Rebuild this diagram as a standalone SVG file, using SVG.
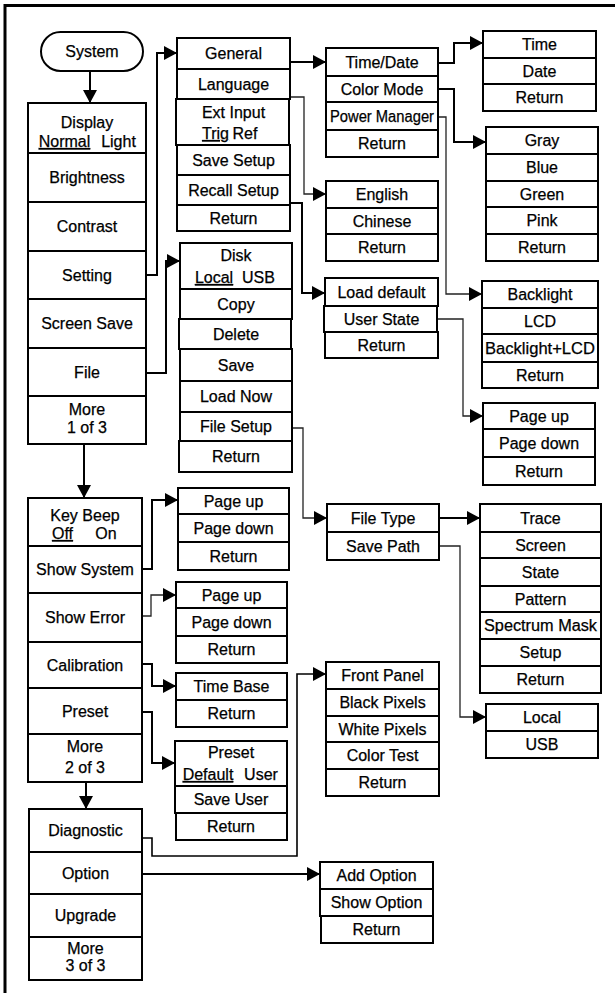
<svg xmlns="http://www.w3.org/2000/svg" width="615" height="993" viewBox="0 0 615 993">
<style>
rect{fill:#fff;stroke:#000;stroke-width:2}
text{font-family:"Liberation Sans",Arial,sans-serif;font-size:16px;text-anchor:middle;fill:#000;stroke:#000;stroke-width:0.25}
.u{text-decoration:underline}
.c{fill:none;stroke:#000;stroke-width:2}
.t{fill:none;stroke:#222;stroke-width:1.3}
.frame{fill:none;stroke:#000;stroke-width:3}
</style>
<defs>
<marker id="ah" markerUnits="userSpaceOnUse" markerWidth="14" markerHeight="14" refX="13" refY="7" orient="auto">
<path d="M0,0 L13,7 L0,14 z" fill="#000"/>
</marker>
</defs>
<rect width="615" height="993" style="fill:#fff;stroke:none"/>
<path class="frame" d="M5,993 V5.5 H615"/>

<g id="connectors">
<path class="c" d="M90,71 V103" marker-end="url(#ah)"/>
<path class="c" d="M84,444 V498" marker-end="url(#ah)"/>
<path class="c" d="M86,782 V809" marker-end="url(#ah)"/>
<path class="c" d="M146,275 H157 V53 H177" marker-end="url(#ah)"/>
<path class="c" d="M146,373 H166 V261 H180" marker-end="url(#ah)"/>
<path class="c" d="M290,62 H326" marker-end="url(#ah)"/>
<path class="t" d="M290,97 H304 V194 H326" marker-end="url(#ah)"/>
<path class="c" d="M290,203 H302 V293 H325" marker-end="url(#ah)"/>
<path class="c" d="M438,63 H454 V43 H483" marker-end="url(#ah)"/>
<path class="c" d="M438,89 H454 V142 H486" marker-end="url(#ah)"/>
<path class="t" d="M438,117 H446 V294 H482" marker-end="url(#ah)"/>
<path class="t" d="M437,319 H463 V416 H483" marker-end="url(#ah)"/>
<path class="t" d="M292,428 H303 V518 H327" marker-end="url(#ah)"/>
<path class="c" d="M439,518 H480" marker-end="url(#ah)"/>
<path class="t" d="M439,546 H460 V717 H486" marker-end="url(#ah)"/>
<path class="c" d="M142,569 H152 V500 H178" marker-end="url(#ah)"/>
<path class="t" d="M142,616 H151 V595 H176" marker-end="url(#ah)"/>
<path class="c" d="M142,664 H152 V686 H176" marker-end="url(#ah)"/>
<path class="c" d="M142,712 H152 V763 H175" marker-end="url(#ah)"/>
<path class="c" style="stroke-width:1.6" d="M142,838 H152 V856 H297 V674 H326" marker-end="url(#ah)"/>
<path class="c" d="M142,874 H320" marker-end="url(#ah)"/>
</g>

<g id="system">
<rect x="41" y="32" width="102" height="39" rx="19.5"/>
<text x="92" y="57">System</text>
</g>

<g id="menu1">
<rect x="28" y="103" width="118" height="50"/>
<text x="87" y="128">Display</text>
<text class="u" x="64.5" y="147">Normal</text>
<text x="118.5" y="147">Light</text>
<rect x="28" y="153" width="118" height="49"/><text x="87" y="183">Brightness</text>
<rect x="28" y="202" width="118" height="49"/><text x="87" y="232">Contrast</text>
<rect x="28" y="251" width="118" height="48"/><text x="87" y="280.5">Setting</text>
<rect x="28" y="299" width="118" height="49"/><text x="87" y="329">Screen Save</text>
<rect x="28" y="348" width="118" height="48"/><text x="87" y="377.5">File</text>
<rect x="28" y="396" width="118" height="48"/>
<text x="87" y="415">More</text><text x="87" y="433">1 of 3</text>
</g>

<g id="setting-menu">
<rect x="177" y="38" width="113" height="31"/><text x="233.5" y="59">General</text>
<rect x="177" y="69" width="113" height="30"/><text x="233.5" y="89.5">Language</text>
<rect x="176" y="99" width="113" height="46"/>
<text x="233.5" y="118">Ext Input</text>
<text class="u" x="215.5" y="139">Trig</text><text x="245" y="139">Ref</text>
<rect x="177" y="145" width="113" height="30"/><text x="233.5" y="165.5">Save Setup</text>
<rect x="177" y="175" width="113" height="30"/><text x="233.5" y="195.5">Recall Setup</text>
<rect x="177" y="205" width="113" height="26"/><text x="233.5" y="223.5">Return</text>
</g>

<g id="general-menu">
<rect x="326" y="48" width="112" height="28"/><text x="382" y="67.5">Time/Date</text>
<rect x="326" y="76" width="112" height="26"/><text x="382" y="94.5">Color Mode</text>
<rect x="326" y="102" width="112" height="28"/><text x="382" y="121.5" textLength="104" lengthAdjust="spacingAndGlyphs">Power Manager</text>
<rect x="326" y="130" width="112" height="27"/><text x="382" y="149">Return</text>
</g>

<g id="time-menu">
<rect x="483" y="31" width="113" height="27"/><text x="539.5" y="50">Time</text>
<rect x="483" y="58" width="113" height="26"/><text x="539.5" y="76.5">Date</text>
<rect x="483" y="84" width="113" height="27"/><text x="539.5" y="103">Return</text>
</g>

<g id="color-menu">
<rect x="486" y="127" width="112" height="27"/><text x="542" y="146">Gray</text>
<rect x="486" y="154" width="112" height="27"/><text x="542" y="173">Blue</text>
<rect x="486" y="181" width="112" height="26"/><text x="542" y="199.5">Green</text>
<rect x="486" y="207" width="112" height="27"/><text x="542" y="226">Pink</text>
<rect x="486" y="234" width="112" height="27"/><text x="542" y="253">Return</text>
</g>

<g id="language-menu">
<rect x="326" y="181" width="112" height="27"/><text x="382" y="200">English</text>
<rect x="326" y="208" width="112" height="26"/><text x="382" y="226.5">Chinese</text>
<rect x="326" y="234" width="112" height="27"/><text x="382" y="253">Return</text>
</g>

<g id="recall-menu">
<rect x="325" y="278" width="113" height="28"/><text x="381.5" y="297.5">Load default</text>
<rect x="324" y="306" width="113" height="26"/><text x="381.5" y="324.5">User State</text>
<rect x="325" y="332" width="113" height="26"/><text x="381.5" y="350.5">Return</text>
</g>

<g id="power-menu">
<rect x="482" y="281" width="116" height="27"/><text x="540" y="300">Backlight</text>
<rect x="482" y="308" width="116" height="26"/><text x="540" y="326.5">LCD</text>
<rect x="482" y="334" width="116" height="28"/><text x="540" y="353.5" textLength="110" lengthAdjust="spacingAndGlyphs">Backlight+LCD</text>
<rect x="482" y="362" width="116" height="26"/><text x="540" y="380.5">Return</text>
</g>

<g id="userstate-menu">
<rect x="483" y="403" width="112" height="26"/><text x="539" y="421.5">Page up</text>
<rect x="483" y="429" width="112" height="28"/><text x="539" y="448.5">Page down</text>
<rect x="483" y="457" width="112" height="28"/><text x="539" y="476.5">Return</text>
</g>

<g id="file-menu">
<rect x="180" y="243" width="112" height="46"/>
<text x="236" y="261">Disk</text>
<text class="u" x="214" y="283">Local</text><text x="258.5" y="283">USB</text>
<rect x="180" y="289" width="112" height="30"/><text x="236" y="309.5">Copy</text>
<rect x="179" y="319" width="112" height="30"/><text x="236" y="339.5">Delete</text>
<rect x="180" y="349" width="112" height="32"/><text x="236" y="370.5">Save</text>
<rect x="180" y="381" width="112" height="31"/><text x="236" y="402">Load Now</text>
<rect x="180" y="412" width="112" height="29"/><text x="236" y="432">File Setup</text>
<rect x="179" y="441" width="113" height="31"/><text x="236" y="462">Return</text>
</g>

<g id="filesetup-menu">
<rect x="327" y="504" width="112" height="28"/><text x="383" y="523.5">File Type</text>
<rect x="327" y="532" width="112" height="28"/><text x="383" y="551.5">Save Path</text>
</g>

<g id="filetype-menu">
<rect x="480" y="504" width="121" height="28"/><text x="540.5" y="523.5">Trace</text>
<rect x="480" y="532" width="121" height="26"/><text x="540.5" y="550.5">Screen</text>
<rect x="480" y="558" width="121" height="28"/><text x="540.5" y="577.5">State</text>
<rect x="480" y="586" width="121" height="26"/><text x="540.5" y="604.5">Pattern</text>
<rect x="480" y="612" width="121" height="27"/><text x="540.5" y="631" textLength="113" lengthAdjust="spacingAndGlyphs">Spectrum Mask</text>
<rect x="480" y="639" width="121" height="27"/><text x="540.5" y="658">Setup</text>
<rect x="480" y="666" width="121" height="27"/><text x="540.5" y="685">Return</text>
</g>

<g id="savepath-menu">
<rect x="486" y="704" width="112" height="27"/><text x="542" y="723">Local</text>
<rect x="486" y="731" width="112" height="27"/><text x="542" y="750">USB</text>
</g>

<g id="menu2">
<rect x="28" y="498" width="114" height="48"/>
<text x="85" y="521">Key Beep</text>
<text class="u" x="62.5" y="539">Off</text><text x="106" y="539">On</text>
<rect x="28" y="546" width="114" height="47"/><text x="85" y="575">Show System</text>
<rect x="28" y="593" width="114" height="49"/><text x="85" y="623">Show Error</text>
<rect x="28" y="642" width="114" height="46"/><text x="85" y="670.5">Calibration</text>
<rect x="28" y="688" width="114" height="46"/><text x="85" y="716.5">Preset</text>
<rect x="28" y="734" width="114" height="48"/>
<text x="85" y="752">More</text><text x="85" y="773">2 of 3</text>
</g>

<g id="showsystem-menu">
<rect x="178" y="488" width="111" height="26"/><text x="233.5" y="506.5">Page up</text>
<rect x="178" y="514" width="111" height="28"/><text x="233.5" y="533.5">Page down</text>
<rect x="178" y="542" width="111" height="28"/><text x="233.5" y="561.5">Return</text>
</g>

<g id="showerror-menu">
<rect x="176" y="582" width="111" height="26"/><text x="231.5" y="600.5">Page up</text>
<rect x="176" y="608" width="111" height="28"/><text x="231.5" y="627.5">Page down</text>
<rect x="176" y="636" width="111" height="27"/><text x="231.5" y="655">Return</text>
</g>

<g id="calibration-menu">
<rect x="176" y="673" width="111" height="27"/><text x="231.5" y="692">Time Base</text>
<rect x="176" y="700" width="111" height="27"/><text x="231.5" y="719">Return</text>
</g>

<g id="preset-menu">
<rect x="175" y="741" width="112" height="45"/>
<text x="231" y="758">Preset</text>
<text class="u" x="208" y="780">Default</text><text x="261" y="780">User</text>
<rect x="175" y="786" width="112" height="27"/><text x="231" y="805">Save User</text>
<rect x="176" y="813" width="111" height="27"/><text x="231" y="832">Return</text>
</g>

<g id="menu3">
<rect x="29" y="809" width="113" height="43"/><text x="85.5" y="836">Diagnostic</text>
<rect x="29" y="852" width="113" height="42"/><text x="85.5" y="878.5">Option</text>
<rect x="29" y="894" width="113" height="43"/><text x="85.5" y="921">Upgrade</text>
<rect x="29" y="937" width="113" height="43"/>
<text x="85.5" y="954">More</text><text x="85.5" y="971">3 of 3</text>
</g>

<g id="diagnostic-menu">
<rect x="326" y="662" width="113" height="27"/><text x="382.5" y="681">Front Panel</text>
<rect x="326" y="689" width="113" height="27"/><text x="382.5" y="708">Black Pixels</text>
<rect x="326" y="716" width="113" height="26"/><text x="382.5" y="734.5">White Pixels</text>
<rect x="326" y="742" width="113" height="27"/><text x="382.5" y="761">Color Test</text>
<rect x="326" y="769" width="113" height="27"/><text x="382.5" y="788">Return</text>
</g>

<g id="option-menu">
<rect x="320" y="862" width="113" height="27"/><text x="376.5" y="881">Add Option</text>
<rect x="320" y="889" width="113" height="27"/><text x="376.5" y="908">Show Option</text>
<rect x="321" y="916" width="112" height="27"/><text x="376.5" y="935">Return</text>
</g>
</svg>
